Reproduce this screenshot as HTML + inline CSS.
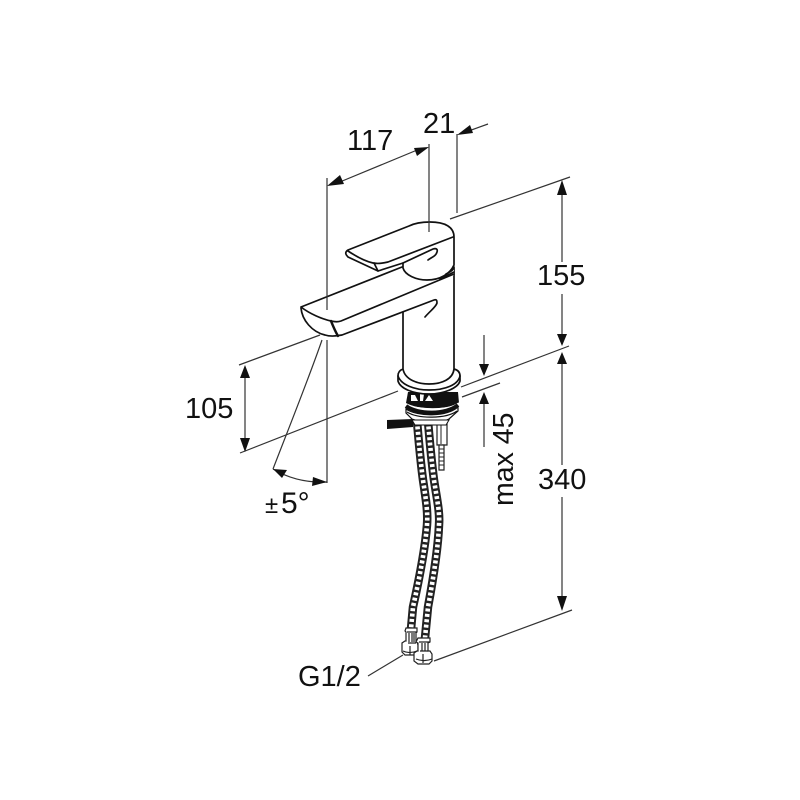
<!DOCTYPE html>
<html><head><meta charset="utf-8"><style>html,body{margin:0;padding:0;background:#fff}svg{display:block}text{font-family:"Liberation Sans",sans-serif;font-size:29px;fill:#111}</style></head><body>
<svg width="800" height="800" viewBox="0 0 800 800" xmlns="http://www.w3.org/2000/svg">
<rect width="800" height="800" fill="#fff"/>
<!-- hoses -->
<g fill="none">
<path d="M417 421C419 445 421 465 423 480C426 500 428 512 427 525C425 550 419 580 413 607L411 629" stroke="#222" stroke-width="8.5"/>
<path d="M417 421C419 445 421 465 423 480C426 500 428 512 427 525C425 550 419 580 413 607L411 629" stroke="#fff" stroke-width="4.6" stroke-dasharray="3 2.4"/>
<path d="M428 421C430 445 432 465 434 480C437 500 440 512 439 525C438 550 433 580 428 607L425 638" stroke="#222" stroke-width="8.5"/>
<path d="M428 421C430 445 432 465 434 480C437 500 440 512 439 525C438 550 433 580 428 607L425 638" stroke="#fff" stroke-width="4.6" stroke-dasharray="3 2.4"/>
</g>
<!-- connectors bottom -->
<g stroke="#222" stroke-width="1.2" fill="#fff">
<path d="M406 628h11v4l-1 1v9h1l1 3v8l-3 2h-10l-3-3v-9l3-2h1v-9l-1-1z"/>
<path d="M418 638h12v4l-2 1v8h2l2 3v7l-3 3h-11l-4-3v-8l3-2h1v-8l-2-1z"/>
<path d="M407 632h10M408 643h8M403 651c4 2 9 2 14 0M419 642h11M420 651h8M416 659c5 2 11 2 16 0M409 633v9M412 633v9M414 633v9M422 643v8M425 643v8M410 646v9M423 654v9" fill="none"/>
</g>
<!-- under-mount -->
<path d="M437 423h10v22h-10z" fill="#fff" stroke="#222" stroke-width="1.2"/>
<path d="M439 445h5v25h-5z" fill="#fff" stroke="#222" stroke-width="1.2"/>
<path d="M439 449h5M439 453h5M439 457h5M439 461h5M439 465h5M441 424v20" stroke="#222" stroke-width="1" fill="none"/>
<path d="M387 420L413 419L413 427L387 429Z" fill="#111"/>
<path d="M408 392H458L459 403C448 410 418 410 406 403Z" fill="#111"/>
<path d="M411 395h4l3 6h-7zM420 394h4l-1 7h-3zM425 401l4-6 4 6z" fill="#fff"/>
<path d="M406 404C418 411 448 411 459 403" fill="none" stroke="#fff" stroke-width="1.5"/>
<path d="M406 406C418 415 446 415 458 405" fill="none" stroke="#111" stroke-width="4"/>
<path d="M406 409V413L412 419C422 423 442 423 449 419L458 411V407C446 417 418 417 406 409Z" fill="#fff" stroke="#111" stroke-width="1.2"/>
<path d="M407 412C418 419 446 419 457 411" fill="none" stroke="#111" stroke-width="1.2"/>
<path d="M412 420h37l-3 5h-31z" fill="#fff" stroke="#111" stroke-width="1"/>
<!-- faucet -->
<g stroke="#111" stroke-width="1.7" fill="#fff" stroke-linejoin="round" stroke-linecap="round">
<path d="M398 376C398 372 400 370 403 369H454C458 370 460 372 460 376L460 381C458 388 444 394 429 394C412 394 400 388 398 381Z"/>
<path d="M398 376C401 385 415 390 429 390C445 390 458 385 460 376" fill="none"/>
<path d="M403 312L454 277V369C453 379 442 384 429 384C418 384 405 380 403 369Z" stroke="none"/>
<path d="M403 312V369C405 380 418 384 429 384C442 384 453 379 454 369V268" fill="none"/>
<path d="M301 307L402 267L454 268V275L342 335C336 337 326 337 318 333C308 328 303 318 301 307Z" stroke="none"/>
<path d="M301 307L402 267M301 307C310 314 322 319 331 321C335 322 338 322 341 321L454 274M301 308C302 320 312 332 325 335C331 337 337 336 342 335L434 300C437 299 437 301 437 303C436 307 430 311 425 317" fill="none"/>
<path d="M331 321C333 326 335 331 338 336" fill="none" stroke-width="2.4"/>
<path d="M403 263V268C405 275 416 280 427 280C440 280 450 274 454 265V237C454 227 445 222 430 222C421 222 415 223 409 226L348 250C345 252 345 254 348 257L378 271L403 263Z"/>
<path d="M348 251C354 255 364 261 373 263C378 264 384 263 388 262L453 237" fill="none"/>
<path d="M374 263L378 271M403 263L433 249C436 248 438 249 437 252C436 256 432 257 428 260" fill="none"/>
<path d="M446 274C450 272 454 270 454 267" fill="none"/>
<path d="M440 279L454 272" fill="none"/>
</g>
<!-- dimension lines -->
<g stroke="#333" stroke-width="1.2" fill="none">
<path d="M327 178V310M327 340V483"/>
<path d="M429 144V232M457 134V213"/>
<path d="M450 219L570 177"/>
<path d="M239 365L320 335"/>
<path d="M240 453L398 391"/>
<path d="M461 387L569 346"/>
<path d="M462 397L500 383"/>
<path d="M434 661L572 610"/>
<path d="M368 676L403 655"/>
<path d="M322 340C310 375 290 425 273 469"/>
<path d="M273 469C288 478 306 483 327 482"/>
<path d="M335 184L422 148"/>
<path d="M463 133L488 124"/>
<path d="M562 188V262M562 294V340M562 358V465M562 497V605"/>
<path d="M245 370V448"/>
<path d="M484 335V370M484 400V447"/>
</g>
<!-- arrowheads -->
<g fill="#111">
<path d="M327 186L340 175L344 184Z"/>
<path d="M429 147L414 148L417 156Z"/>
<path d="M457 135L470 125L473 133Z"/>
<path d="M562 180L557 195H567Z"/>
<path d="M562 346L557 334H567Z"/>
<path d="M562 352L557 364H567Z"/>
<path d="M562 611L557 596H567Z"/>
<path d="M245 365L240 378H250ZM245 452L240 438H250Z"/>
<path d="M484 376L479 364H489Z"/>
<path d="M484 392L479 404H489Z"/>
<path d="M273 469L287 470L282 478Z"/>
<path d="M327 482L313 477L312 486Z"/>
</g>
<!-- labels -->
<text x="347" y="150">117</text>
<text x="423" y="133">21</text>
<text x="537" y="285">155</text>
<text x="185" y="418">105</text>
<text x="538" y="489">340</text>
<text x="298" y="686">G1/2</text>
<text x="265" y="513" style="font-size:24px">±</text>
<text x="281" y="513" style="font-size:30px">5°</text>
<text transform="translate(513 506) rotate(-90)" style="font-size:28.5px">max 45</text>
</svg>
</body></html>
